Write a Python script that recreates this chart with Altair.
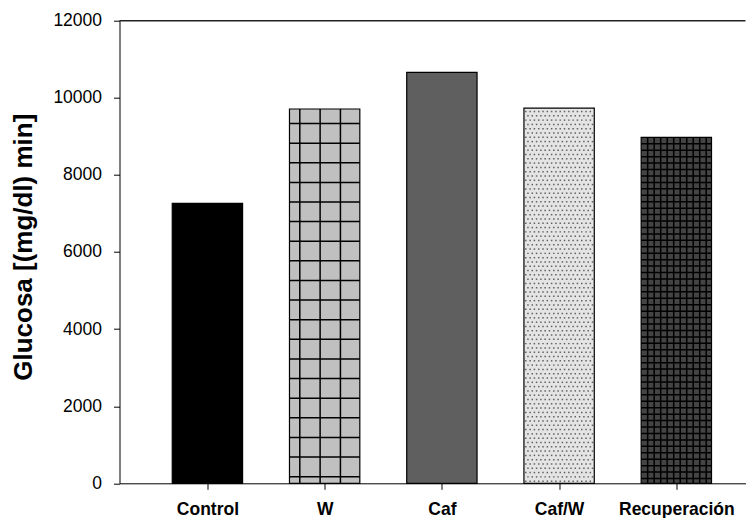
import json
import altair as alt

# ---- data ----
categories = ["Control", "W", "Caf", "Caf/W", "Recuperación"]
values = [7260, 9710, 10660, 9730, 8975]
y_ticks = [0, 2000, 4000, 6000, 8000, 10000, 12000]
y_title = "Glucosa [(mg/dl) min]"

# ---- styling ----
bar_colors = ["#000000", "#c0c0c0", "#5f5f5f", "#e4e4e4", "#444444"]
HALF = 0.3
x_scale = alt.Scale(domain=[-0.75, 4.59], nice=False, zero=False)
y_scale = alt.Scale(domain=[0, 12000], nice=False, zero=True)

records = [{"cat": c, "idx": i, "value": v} for i, (c, v) in enumerate(zip(categories, values))]
bars_data = alt.InlineData(values=records)
label_expr = "%s[datum.value]" % json.dumps(categories, ensure_ascii=False)

x_axis = alt.Axis(values=list(range(len(categories))), labelExpr=label_expr, title=None,
                  labelFontSize=17.5, labelFontWeight="bold", labelPadding=11,
                  labelFlush=False, labelOverlap=False, grid=False)
y_axis = alt.Axis(values=y_ticks, format="d", title=y_title, labelFontSize=17.5,
                  labelPadding=12, grid=False, titleFontSize=26, titleFontWeight="bold",
                  titleX=-88, titleY=226, titleBaseline="alphabetic", titleAngle=270,
                  titleAlign="center", labelFlush=False)


def X(field):
    return alt.X(field, scale=x_scale, axis=x_axis)


def Y(field):
    return alt.Y(field, scale=y_scale, axis=y_axis)


base = alt.Chart(bars_data).transform_calculate(
    x0=f"datum.idx - {HALF}", x1=f"datum.idx + {HALF}", y0="0"
)

bars = base.mark_rect().encode(
    x=X("x0:Q"), x2="x1:Q",
    y=Y("value:Q"), y2="y0:Q",
    fill=alt.Fill("cat:N", scale=alt.Scale(domain=categories, range=bar_colors), legend=None),
)

outlines = base.mark_rect(fillOpacity=0, stroke="black", strokeWidth=1.2).encode(
    x=X("x0:Q"), x2="x1:Q",
    y=Y("value:Q"), y2="y0:Q",
)


def pattern(seq, name):
    return alt.Chart(seq).transform_calculate(cat=f"'{name}'").transform_lookup(
        lookup="cat",
        from_=alt.LookupData(data=bars_data, key="cat", fields=["idx", "value"]),
    )


# W: grey with a coarse black grid
w_v = pattern(alt.sequence(0, 3, as_="k"), "W").transform_calculate(
    xv="datum.idx - 0.212 + datum.k * 0.1733", y0="0"
).mark_rule(color="black", strokeWidth=1.5).encode(
    x=X("xv:Q"), y=Y("y0:Q"), y2="value:Q")

w_h = pattern(alt.sequence(0, 30, as_="k"), "W").transform_calculate(
    yv="171 + datum.k * 509", x0=f"datum.idx - {HALF}", x1=f"datum.idx + {HALF}"
).transform_filter("datum.yv < datum.value").mark_rule(color="black", strokeWidth=1.5).encode(
    x=X("x0:Q"), x2="x1:Q", y=Y("yv:Q"))

# Recuperación: dark grey with a fine black grid
r_v = pattern(alt.sequence(1, 11, as_="k"), "Recuperación").transform_calculate(
    xv=f"datum.idx - {HALF} + datum.k * 0.0555", y0="0"
).mark_rule(color="black", strokeWidth=1.5).encode(
    x=X("xv:Q"), y=Y("y0:Q"), y2="value:Q")

r_h = pattern(alt.sequence(1, 60, as_="k"), "Recuperación").transform_calculate(
    yv="datum.value - datum.k * 167", x0=f"datum.idx - {HALF}", x1=f"datum.idx + {HALF}"
).transform_filter("datum.yv > 0").mark_rule(color="black", strokeWidth=1.5).encode(
    x=X("x0:Q"), x2="x1:Q", y=Y("yv:Q"))

# Caf/W: light grey with fine dots
dots = pattern(alt.sequence(0, 16 * 92, as_="k"), "Caf/W").transform_calculate(
    col="datum.k % 16", row="floor(datum.k / 16)"
).transform_calculate(
    xv=f"datum.idx - {HALF} + 0.016 + datum.col * 0.0367 + (datum.row % 2) * 0.01835",
    yv="55 + datum.row * 111.5",
).transform_filter(
    f"datum.yv < datum.value - 30 && datum.xv < datum.idx + {HALF} - 0.008"
).mark_square(size=2.2, color="#606060", opacity=1).encode(
    x=X("xv:Q"), y=Y("yv:Q"))

top_line = alt.Chart(alt.Data(values=[{}])).mark_rule(color="#222222", strokeWidth=1.5).encode(
    y=alt.datum(12000, scale=y_scale, axis=y_axis))

chart = alt.layer(bars, w_v, w_h, r_v, r_h, dots, outlines, top_line).properties(
    width=626, height=462.6,
    autosize=alt.AutoSizeParams(type="none"),
    padding={"left": 111.5, "top": 12.7, "right": 0, "bottom": 35},
    background="white",
).configure(font="Liberation Sans").configure_view(stroke=None).configure_axis(
    domainColor="black", tickColor="black", labelColor="black", titleColor="black",
    tickSize=6, tickWidth=1, domainWidth=1,
)

chart.save("out.html", embed_options={"renderer": "svg", "actions": False})
